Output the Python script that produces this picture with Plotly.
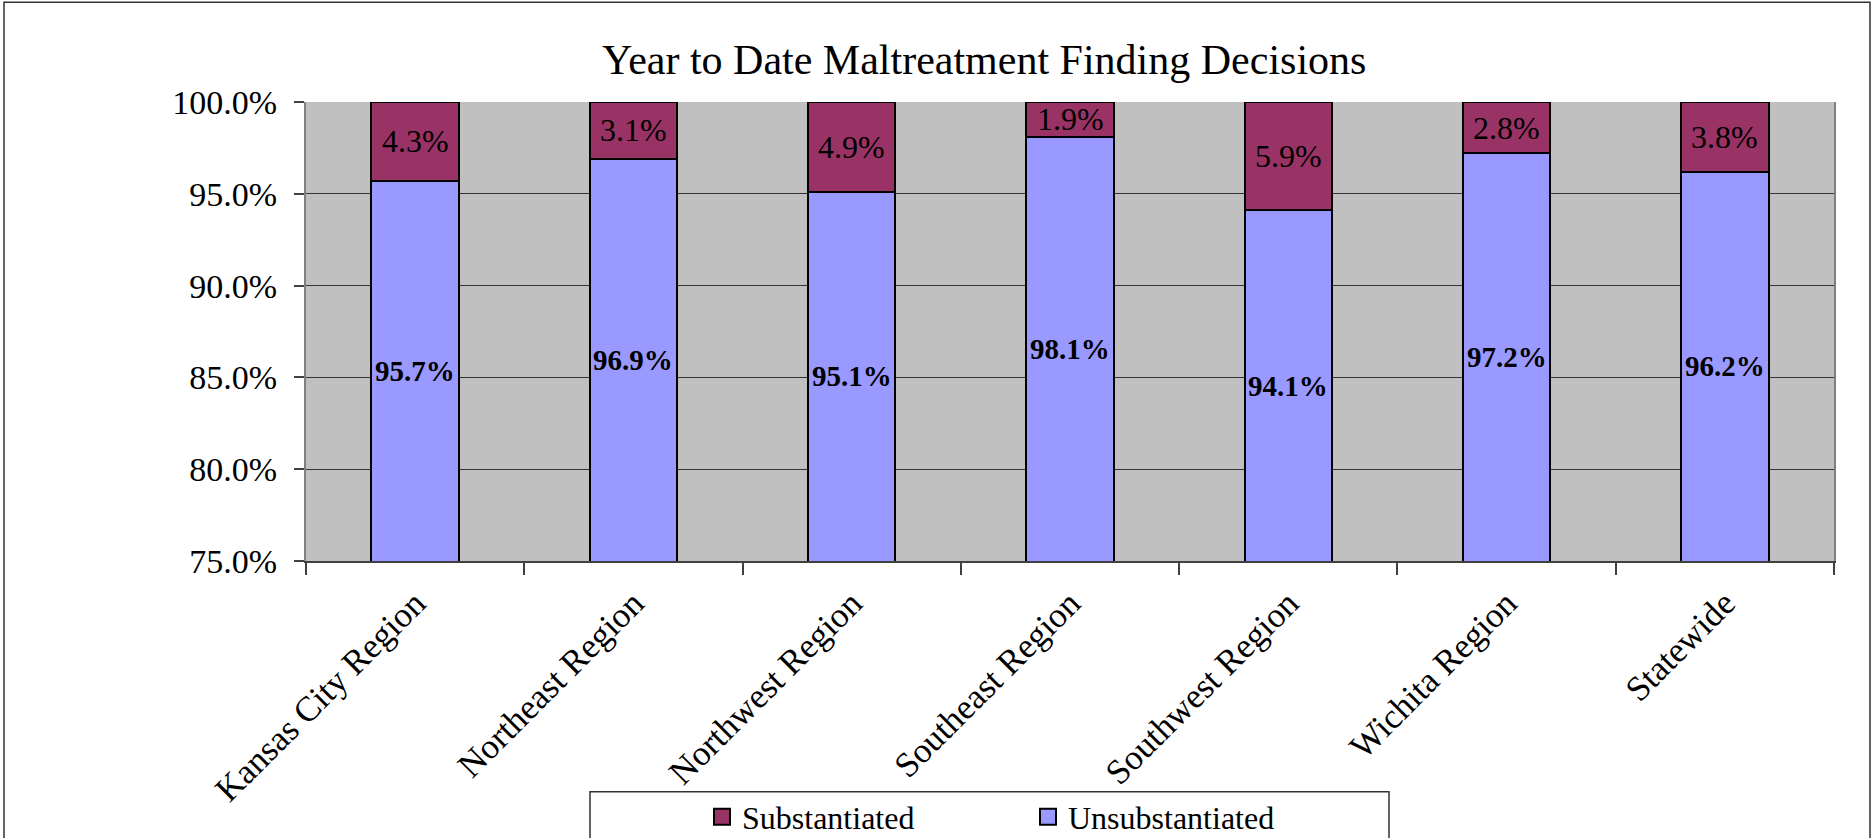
import plotly.graph_objects as go

categories = ["Kansas City Region", "Northeast Region", "Northwest Region",
              "Southeast Region", "Southwest Region", "Wichita Region", "Statewide"]
unsubstantiated = [95.7, 96.9, 95.1, 98.1, 94.1, 97.2, 96.2]
substantiated = [4.3, 3.1, 4.9, 1.9, 5.9, 2.8, 3.8]
y_ticks = [75, 80, 85, 90, 95, 100]
y_min, y_max = 75, 100

COLOR_SUB = "#993366"
COLOR_UNSUB = "#9999FF"
FONT = "Liberation Serif, Times New Roman, serif"
W, H = 1873, 838
L, R, T, B = 306, 39, 101.7, 277
pw, ph = W - L - R, H - T - B

def px_x(p):
    return (p - L) / pw

def px_y(p):
    return (H - B - p) / ph

fig = go.Figure()
fig.add_trace(go.Bar(
    x=categories, y=unsubstantiated, name="Unsubstantiated",
    marker=dict(color=COLOR_UNSUB, line=dict(color="black", width=2)),
    hoverinfo="x+y", showlegend=False,
))
fig.add_trace(go.Bar(
    x=categories, y=substantiated, name="Substantiated",
    marker=dict(color=COLOR_SUB, line=dict(color="black", width=2)),
    hoverinfo="x+y", showlegend=False,
))
# legend entries (larger square keys, as in the original)
for name, col in [("Substantiated", COLOR_SUB), ("Unsubstantiated", COLOR_UNSUB)]:
    fig.add_trace(go.Scatter(
        x=[None], y=[None], mode="markers", name=name,
        marker=dict(symbol="square", size=16, color=col,
                    line=dict(color="black", width=2)),
    ))

annotations = []
for c, u, s in zip(categories, unsubstantiated, substantiated):
    annotations.append(dict(
        x=c, y=(y_min + u) / 2, xref="x", yref="y", text=f"<b>{u:.1f}%</b>",
        showarrow=False, font=dict(family=FONT, size=29, color="black"),
        xanchor="center", yanchor="middle"))
    annotations.append(dict(
        x=c, y=u + s / 2, xref="x", yref="y", text=f"{s:.1f}%",
        showarrow=False, font=dict(family=FONT, size=32, color="black"),
        xanchor="center", yanchor="middle"))

annotations.append(dict(
    x=px_x(984), y=px_y(60), xref="paper", yref="paper",
    text="Year to Date Maltreatment Finding Decisions", showarrow=False,
    font=dict(family=FONT, size=42, color="black"),
    xanchor="center", yanchor="middle"))

shapes = [
    # outer chart border
    dict(type="rect", xref="paper", yref="paper",
         x0=px_x(4), x1=px_x(1870), y0=px_y(2), y1=px_y(860),
         line=dict(color="#333333", width=1.5), fillcolor="rgba(0,0,0,0)", layer="above"),
    # legend box
    dict(type="rect", xref="paper", yref="paper",
         x0=px_x(590), x1=px_x(1389), y0=px_y(792), y1=px_y(860),
         line=dict(color="#333333", width=1.5), fillcolor="white", layer="below"),
]

fig.update_layout(
    width=W, height=H,
    margin=dict(l=L, r=R, t=T, b=B, autoexpand=False),
    barmode="stack", bargap=0.6,
    paper_bgcolor="white", plot_bgcolor="#C0C0C0",
    font=dict(family=FONT, color="black"),
    showlegend=True,
    legend=dict(orientation="h", traceorder="normal",
                x=px_x(702), y=px_y(817), xanchor="left", yanchor="middle",
                font=dict(family=FONT, size=32, color="black"),
                bgcolor="rgba(0,0,0,0)", borderwidth=0,
                entrywidth=281, entrywidthmode="pixels"),
    annotations=annotations,
    shapes=shapes,
    xaxis=dict(
        type="category", tickangle=-45, tickson="boundaries",
        ticks="outside", ticklen=12, tickcolor="#404040", tickwidth=1.5,
        showgrid=False, showline=True, linecolor="#404040", linewidth=1.5,
        tickfont=dict(family=FONT, size=35, color="black"),
        ticklabelstandoff=6,
    ),
    yaxis=dict(
        range=[y_min, y_max], tickvals=y_ticks,
        ticktext=[f"{v:.1f}%" for v in y_ticks],
        ticks="outside", ticklen=10, tickcolor="#404040", tickwidth=1.5,
        showgrid=True, gridcolor="#333333", gridwidth=1.2,
        showline=True, linecolor="#808080", linewidth=2, mirror=True,
        tickfont=dict(family=FONT, size=34, color="black"),
        ticklabelstandoff=10,
        zeroline=False,
    ),
)

fig.write_html("out.html", config={"displayModeBar": False},
               post_script="document.body.style.margin='0';")
